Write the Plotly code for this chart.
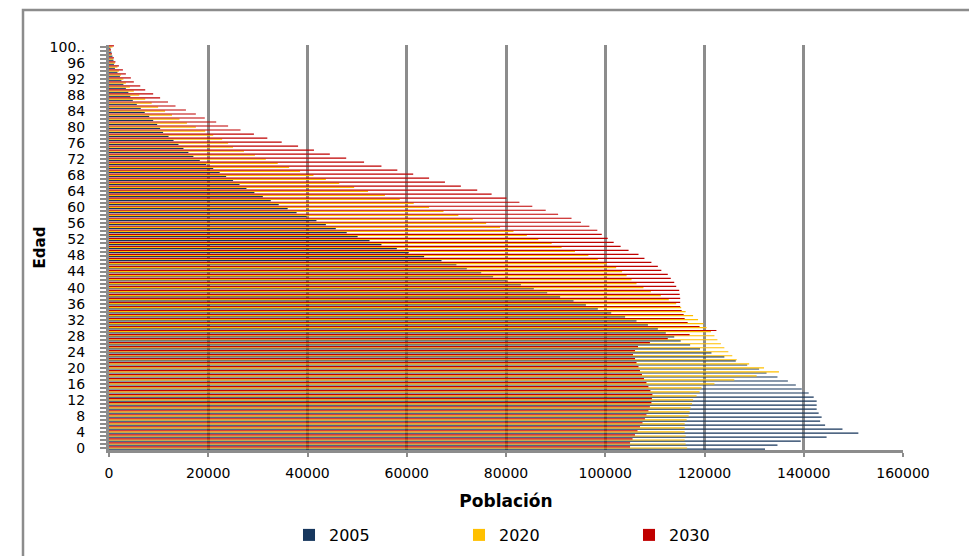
import plotly.graph_objects as go

ages = list(range(0, 101))
age_labels = [("100.." if a == 100 else str(a)) if a % 4 == 0 else "" for a in ages]

pop_2005 = [132200, 134700, 139400, 144600, 151000, 147800, 144300, 143300, 143600, 143000,
            142600, 142600, 142600, 142000, 141000, 139600, 138400, 136800, 134700, 132500,
            131000, 128600, 126300, 124000, 121400, 119100, 117100, 115200, 113900, 112200,
            110600, 108600, 106300, 104000, 101200, 98500, 96100, 93600, 90900, 88300,
            85600, 83000, 80100, 77400, 75000, 72100, 70000, 67000, 63500, 60400,
            58000, 54900, 52500, 50100, 47900, 45700, 43700, 41800, 39800, 37800,
            36000, 34200, 32600, 31000, 29300, 27700, 26300, 25000, 23600, 22300,
            21000, 19600, 18300, 17000, 16000, 15000, 14000, 13000, 12000, 10900,
            10300, 9700, 8900, 8100, 7200, 6400, 5600, 4800, 4300, 3900,
            3400, 2900, 2500, 2200, 1700, 1200, 1000, 900, 700, 500, 300]

pop_2020 = [116500, 116200, 116000, 116200, 116000, 116000, 116000, 116400, 116800, 117000,
            117200, 117500, 117700, 118400, 119000, 119400, 122000, 126000, 130500, 135000,
            132000, 129000, 126500, 125600, 124800, 124000, 123300, 122600, 122000, 121300,
            120400, 119800, 118700, 117700, 116200, 115300, 114300, 112800, 111200, 109200,
            107700, 106300, 105300, 104300, 103400, 102200, 100300, 98500, 96600, 93900,
            91200, 89200, 86500, 84200, 81500, 78800, 76000, 73300, 70400, 67400,
            64500, 61400, 58600, 55600, 52200, 49400, 46400, 43700, 41200, 38500,
            36300, 34000, 31600, 29400, 27200, 25000, 24000, 22800, 21000, 19400,
            17500, 15700, 14200, 12700, 11300, 9900, 8600, 7300, 6100, 5000,
            4200, 3400, 2900, 2400, 2000, 1700, 1200, 800, 500, 300, 700]

pop_2030 = [105000, 105000, 105500, 106000, 106500, 107000, 107500, 108000, 108300, 108700,
            109000, 109300, 109400, 109500, 109100, 108700, 108300, 107800, 107400, 107000,
            106700, 106300, 106000, 105600, 106000, 106600, 109000, 112600, 117000, 122400,
            119000, 116600, 116000, 115800, 115400, 115100, 115100, 115100, 115000, 114900,
            114300, 113900, 113200, 112600, 111300, 110600, 109300, 107900, 106700, 104700,
            103100, 101700, 100500, 99300, 98400, 96800, 95100, 93200, 90500, 88000,
            85300, 82700, 80100, 77100, 74200, 70900, 67700, 64500, 61300, 58100,
            54900, 51400, 47800, 44500, 41300, 38100, 34800, 31900, 29200, 26500,
            24000, 21600, 19300, 17500, 15500, 13400, 11900, 10300, 8900, 7300,
            6300, 5000, 4400, 3400, 2800, 2000, 1300, 1000, 600, 400, 1000]

series = [("2005", pop_2005, "#17375E"), ("2020", pop_2020, "#FFC000"), ("2030", pop_2030, "#C00000")]

FONT = "DejaVu Sans"
GRID = "#8c8c8c"
OFF = 8  # default page body margin

fig = go.Figure()
for name, vals, col in series:
    fig.add_trace(go.Bar(y=ages, x=vals, orientation="h", name=name,
                         marker=dict(color=col, line=dict(width=0.02, color=col))))

W, H = 977 - OFF, 556 - OFF
L, R, T, B = 109 - OFF, 74, 45 - OFF, 106
pw, ph = W - L - R, H - T - B

def px_to_paper_x(px):
    return (px - OFF - L) / pw

def py_to_paper_y(py):
    return (H - B - (py - OFF)) / ph

fig.update_layout(
    width=W, height=H,
    margin=dict(l=L, r=R, t=T, b=B, pad=0, autoexpand=False),
    paper_bgcolor="white", plot_bgcolor="white",
    barmode="group", bargap=0.12, bargroupgap=0,
    font=dict(family=FONT, color="black", size=14),
    showlegend=True,
    legend=dict(orientation="h", x=px_to_paper_x(289), xanchor="left",
                y=py_to_paper_y(535), yanchor="middle",
                entrywidth=125, entrywidthmode="pixels", itemwidth=30,
                font=dict(family=FONT, size=16), bgcolor="rgba(0,0,0,0)",
                traceorder="normal"),
    xaxis=dict(range=[0, 160000], dtick=20000, tick0=0, tickformat="d",
               showgrid=True, gridcolor=GRID, gridwidth=2.5,
               showline=True, linecolor=GRID, linewidth=3,
               ticks="outside", ticklen=4, tickwidth=1.5, tickcolor=GRID,
               tickfont=dict(family=FONT, size=14), ticklabelstandoff=4, zeroline=False,
               title=dict(text="<b>Población</b>", font=dict(family=FONT, size=17), standoff=16)),
    yaxis=dict(range=[-0.5, 100.5], tickmode="array", tickvals=ages, ticktext=age_labels,
               showgrid=False, zeroline=False,
               showline=True, linecolor=GRID, linewidth=3,
               ticks="outside", ticklen=6, tickwidth=1.5, tickcolor=GRID,
               tickfont=dict(family=FONT, size=14), ticklabelstandoff=12,
               title=dict(text="<b>Edad</b>", font=dict(family=FONT, size=15), standoff=1)),
    shapes=[dict(type="rect", xref="paper", yref="paper",
                 x0=px_to_paper_x(23), x1=px_to_paper_x(990),
                 y0=py_to_paper_y(570), y1=py_to_paper_y(10),
                 line=dict(color=GRID, width=2.5), fillcolor="rgba(0,0,0,0)", layer="below")],
)

fig.write_html("out.html")
